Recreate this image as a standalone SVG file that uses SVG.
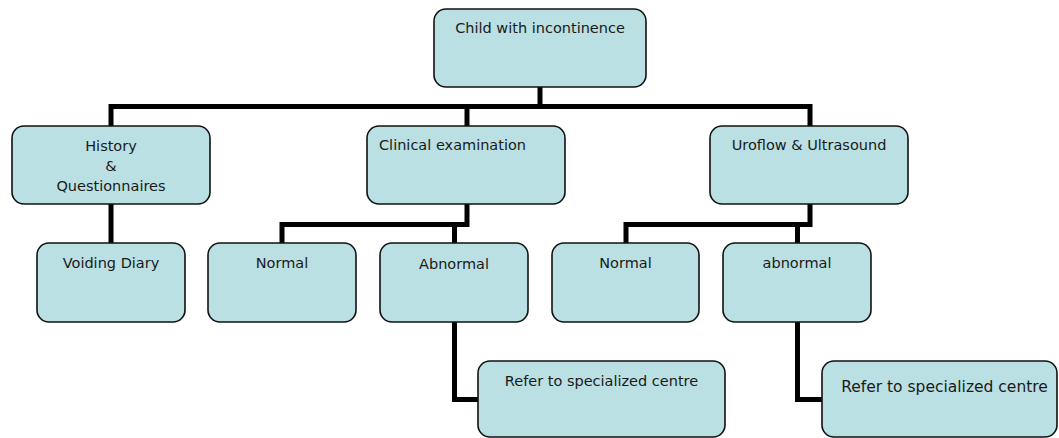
<svg xmlns="http://www.w3.org/2000/svg" width="1059" height="438" viewBox="0 0 1059 438">
<style>
.box{fill:#bae0e3;stroke:#111;stroke-width:1.6}
.conn{fill:none;stroke:#000;stroke-width:5;stroke-linejoin:miter;stroke-linecap:butt}
text{font-family:"DejaVu Sans","Liberation Sans",sans-serif;font-size:14.5px;fill:#1a1a1a}
.c{text-anchor:middle}
</style>
<rect width="1059" height="438" fill="#fff"/>
<g id="connectors">
<path class="conn" d="M111,126 V106.5 H810 V126"/>
<path class="conn" d="M540,87 V106.5"/>
<path class="conn" d="M467,106.5 V126"/>
<path class="conn" d="M111,204 V243"/>
<path class="conn" d="M467,204 V224.5 H282 V243"/>
<path class="conn" d="M454.5,224.5 V243"/>
<path class="conn" d="M810,204 V224.5 H626 V243"/>
<path class="conn" d="M797.5,224.5 V243"/>
<path class="conn" d="M454.5,322 V399.5 H478"/>
<path class="conn" d="M797.5,322 V399.5 H822"/>
</g>
<g id="child">
<rect class="box" x="434" y="9" width="212" height="78" rx="12"/>
<text class="c" x="540" y="33">Child with incontinence</text>
</g>
<g id="history">
<rect class="box" x="12" y="126" width="198" height="78" rx="12"/>
<text class="c" x="111" y="151">History</text>
<text class="c" x="111" y="171">&amp;</text>
<text class="c" x="111" y="191">Questionnaires</text>
</g>
<g id="clinical">
<rect class="box" x="367" y="126" width="198" height="78" rx="12"/>
<text x="379" y="150">Clinical examination</text>
</g>
<g id="uroflow">
<rect class="box" x="710" y="126" width="198" height="78" rx="12"/>
<text class="c" x="809" y="150">Uroflow &amp; Ultrasound</text>
</g>
<g id="voiding">
<rect class="box" x="37" y="243" width="148" height="79" rx="12"/>
<text class="c" x="111" y="268">Voiding Diary</text>
</g>
<g id="normal1">
<rect class="box" x="208" y="243" width="148" height="79" rx="12"/>
<text class="c" x="282" y="268">Normal</text>
</g>
<g id="abnormal1">
<rect class="box" x="380" y="243" width="148" height="79" rx="12"/>
<text class="c" x="454" y="269">Abnormal</text>
</g>
<g id="normal2">
<rect class="box" x="552" y="243" width="147" height="79" rx="12"/>
<text class="c" x="625.5" y="268">Normal</text>
</g>
<g id="abnormal2">
<rect class="box" x="723" y="243" width="148" height="79" rx="12"/>
<text class="c" x="797" y="268">abnormal</text>
</g>
<g id="refer1">
<rect class="box" x="478" y="361" width="247" height="76" rx="12"/>
<text class="c" x="601.5" y="386">Refer to specialized centre</text>
</g>
<g id="refer2">
<rect class="box" x="822" y="361" width="235" height="76" rx="12"/>
<text class="c" x="944.5" y="392" style="font-size:15.5px">Refer to specialized centre</text>
</g>
</svg>
